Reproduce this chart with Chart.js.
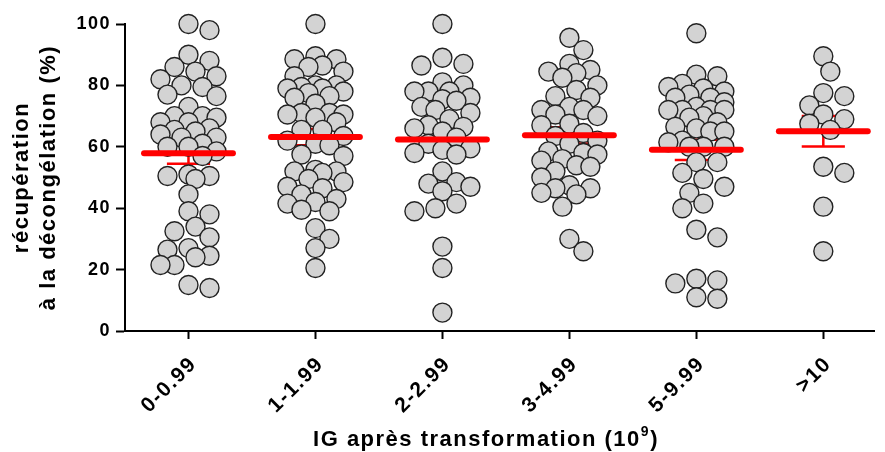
<!DOCTYPE html>
<html>
<head>
<meta charset="utf-8">
<script src="https://cdn.jsdelivr.net/npm/chart.js@4.4.1/dist/chart.umd.min.js"></script>
<style>
  html, body { margin: 0; padding: 0; background: #fff; }
  #wrap { width: 885px; height: 452px; }
</style>
</head>
<body>
<div id="wrap"><canvas id="chart"></canvas></div>
<script>
// catégories (IG après transformation)
const categories = ["0-0.99", "1-1.99", "2-2.99", "3-4.99", "5-9.99", ">10"];

// récupération à la décongélation (%), un tableau par groupe
const ig0to1 = [100, 98, 90, 88, 86, 84.5, 83, 82, 80, 79.5, 77, 76.5, 73, 70, 70, 69.5, 68, 68, 66, 65.5, 65, 64, 63, 63, 61, 60, 60, 58.5, 57,
  51, 50.5, 50.5, 49.5, 44.5, 39, 38, 34, 32.5, 30.5, 27, 26.5, 24.5, 24, 21.5, 21.5, 15, 14];
const ig1to2 = [100, 89.5, 88.5, 88.5, 86.5, 86, 84.5, 83, 80, 80, 79.5, 79, 79, 78, 77.5, 76.5, 76, 74, 71, 71, 70.5, 70.5, 69.5, 68, 65.5, 65.5,
  63.5, 62, 61, 60.5, 57.5, 57, 52.5, 52, 52, 51.5, 49.5, 48.5, 47, 46.5, 44.5, 43, 42, 41.5, 39.5, 39, 33.5, 30, 27, 20.5];
const ig2to3 = [100, 89, 87, 86.5, 81, 80, 78, 78, 78, 76, 75.5, 75, 73, 72, 71, 69, 67, 66.5, 66, 65, 63, 61, 59.5, 59, 58, 57.5,
  52, 48.5, 48, 47, 45.5, 41.5, 40, 39, 27.5, 20.5, 6];
const ig3to5 = [95.5, 91.5, 87, 85, 84.5, 84, 82.5, 80, 78.5, 76.5, 76, 73, 72, 72, 70.5, 70, 67.5, 67, 64.5, 63.5, 62, 61, 58.5, 58, 57.5,
  56, 55.5, 54, 53.5, 52, 50, 47.5, 46.5, 46.5, 45, 44.5, 40.5, 30, 26];
const ig5to10 = [97, 83.5, 83, 80.5, 79.5, 79, 78, 77, 76, 76, 74.5, 73, 72, 72, 72, 72, 70, 69.5, 68, 66.5, 66, 65, 65, 62, 61.5, 60, 60, 60,
  55, 55, 51.5, 49.5, 47, 45, 41.5, 40, 33, 30.5, 17, 16.5, 15.5, 11, 10.5];
const igOver10 = [89.5, 84.5, 77.5, 76.5, 73.5, 70.5, 69, 67.5, 65.5, 53.5, 51.5, 40.5, 26];

const groups = [ig0to1, ig1to2, ig2to3, ig3to5, ig5to10, igOver10];
const yTicks = [0, 20, 40, 60, 80, 100];
const yTitle = ["récupération", "à la décongélation (%)"];
const xTitle = ["IG après transformation (10", "9", ")"];

const FONT = '"Liberation Sans", Arial, sans-serif';

// moyenne et erreur standard
function mean(a) {
  return a.reduce((s, v) => s + v, 0) / a.length;
}
function sem(a) {
  const m = mean(a);
  const sd = Math.sqrt(a.reduce((s, v) => s + (v - m) * (v - m), 0) / (a.length - 1));
  return sd / Math.sqrt(a.length);
}

// répartition horizontale des points (type "beeswarm") à partir des échelles
function swarm(chart) {
  const xs = chart.scales.x, ys = chart.scales.y;
  const unit = xs.getPixelForValue(1) - xs.getPixelForValue(0);
  const steps = [0, 7, -7, 14, -14, 21, -21, 28, -28];
  groups.forEach((vals, i) => {
    const ds = chart.data.datasets[i];
    const placed = [];
    const order = vals.map((v, k) => k).sort((a, b) => vals[b] - vals[a]);
    order.forEach(k => {
      const py = ys.getPixelForValue(vals[k]);
      let best = 0, bestD = -1;
      for (const s of steps) {
        let d = Infinity;
        placed.forEach(p => { d = Math.min(d, Math.hypot(p[0] - s, p[1] - py)); });
        if (d >= 16) { best = s; break; }
        if (d > bestD) { bestD = d; best = s; }
      }
      placed.push([best, py]);
      ds.data[k].x = i + best / unit;
    });
  });
}

const statsPlugin = {
  id: "stats",
  beforeLayout(chart) { chart.ctx.letterSpacing = "1.5px"; },
  beforeDraw(chart) { chart.ctx.letterSpacing = "1.5px"; },
  beforeDatasetsDraw(chart) {
    const { ctx, scales: { x, y } } = chart;
    ctx.save();
    ctx.strokeStyle = "#ff0000";
    ctx.lineWidth = 2.5;
    groups.forEach((vals, i) => {
      const m = mean(vals), e = sem(vals);
      const yt = y.getPixelForValue(m + e), yb = y.getPixelForValue(m - e);
      const cl = x.getPixelForValue(i - 0.17), cr = x.getPixelForValue(i + 0.17);
      const cx = x.getPixelForValue(i);
      ctx.beginPath();
      ctx.moveTo(cx, yt); ctx.lineTo(cx, yb);
      ctx.moveTo(cl, yt); ctx.lineTo(cr, yt);
      ctx.moveTo(cl, yb); ctx.lineTo(cr, yb);
      ctx.stroke();
    });
    ctx.restore();
  },
  afterDatasetsDraw(chart) {
    const { ctx, scales: { x, y } } = chart;
    ctx.save();
    ctx.strokeStyle = "#ff0000";
    ctx.lineWidth = 6;
    ctx.lineCap = "round";
    groups.forEach((vals, i) => {
      const py = y.getPixelForValue(mean(vals));
      ctx.beginPath();
      ctx.moveTo(x.getPixelForValue(i - 0.35), py);
      ctx.lineTo(x.getPixelForValue(i + 0.35), py);
      ctx.stroke();
    });
    ctx.restore();
  },
  afterDraw(chart) {
    // titre de l'axe x avec exposant
    const ctx = chart.ctx;
    ctx.save();
    ctx.fillStyle = "#000";
    ctx.textAlign = "left";
    ctx.textBaseline = "alphabetic";
    const big = "bold 22px " + FONT, small = "bold 14px " + FONT;
    ctx.font = big;
    const w1 = ctx.measureText(xTitle[0]).width, w3 = ctx.measureText(xTitle[2]).width;
    ctx.font = small;
    const w2 = ctx.measureText(xTitle[1]).width;
    let x0 = 486 - (w1 + w2 + w3) / 2;
    ctx.font = big;
    ctx.fillText(xTitle[0], x0, 446);
    ctx.font = small;
    ctx.fillText(xTitle[1], x0 + w1, 436);
    ctx.font = big;
    ctx.fillText(xTitle[2], x0 + w1 + w2, 446);
    ctx.restore();
  }
};

const chart = new Chart(document.getElementById("chart"), {
  type: "scatter",
  data: {
    datasets: groups.map((vals, i) => ({
      label: categories[i],
      data: vals.map(v => ({ x: i, y: v })),
      pointRadius: 9.5,
      pointHoverRadius: 9.5,
      pointBackgroundColor: "#d3d3d3",
      pointBorderColor: "#222",
      pointBorderWidth: 1.4,
      clip: false
    }))
  },
  options: {
    responsive: true,
    maintainAspectRatio: false,
    animation: false,
    events: [],
    layout: { padding: { top: 24, right: 0, bottom: 0, left: 0 } },
    plugins: { legend: { display: false }, tooltip: { enabled: false } },
    scales: {
      x: {
        type: "linear",
        min: -0.5,
        max: 5.4,
        afterBuildTicks: s => { s.ticks = categories.map((c, i) => ({ value: i })); },
        afterFit: s => { s.height = 121; },
        border: { display: true, color: "#000", width: 2 },
        grid: { drawOnChartArea: false, tickLength: 8, tickWidth: 2, tickColor: "#000" },
        ticks: {
          autoSkip: false,
          minRotation: 45,
          maxRotation: 45,
          padding: 13,
          labelOffset: 5,
          color: "#000",
          font: { family: FONT, size: 21, weight: "bold" },
          callback: v => categories[v]
        }
      },
      y: {
        min: 0,
        max: 100,
        afterBuildTicks: s => { s.ticks = yTicks.map(v => ({ value: v })); },
        afterFit: s => { s.width = 125; },
        border: { display: true, color: "#000", width: 2 },
        grid: { drawOnChartArea: false, tickLength: 9, tickWidth: 2, tickColor: "#000" },
        ticks: {
          padding: 5,
          color: "#000",
          font: { family: FONT, size: 18, weight: "bold" }
        },
        title: {
          display: true,
          text: yTitle,
          color: "#000",
          font: { family: FONT, size: 22, weight: "bold", lineHeight: 1.22 },
          padding: { top: 9, bottom: 0 }
        }
      }
    }
  },
  plugins: [statsPlugin]
});

swarm(chart);
chart.update("none");
</script>
</body>
</html>
